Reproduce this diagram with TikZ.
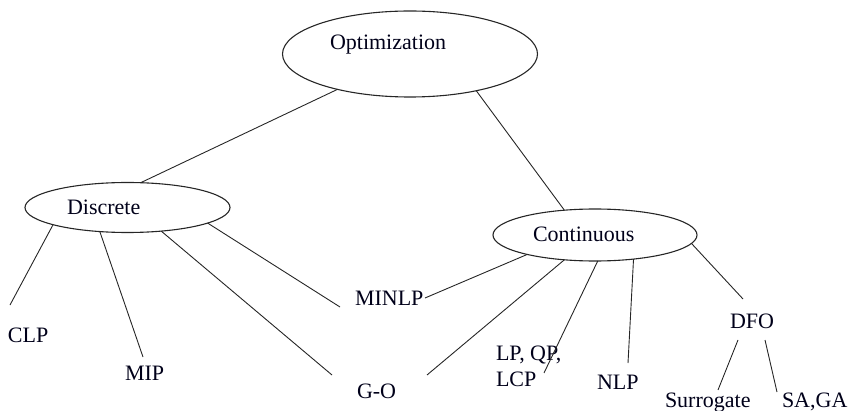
\documentclass[tikz,border=0pt]{standalone}
\usepackage{fontspec}
\setmainfont{Liberation Serif}
\usetikzlibrary{shapes.geometric}
\begin{document}
\begin{tikzpicture}[x=1pt,y=-1pt,
  ell/.style={draw=black!85, line width=1.1pt, ellipse, inner sep=0pt, outer sep=0pt},
  lbl/.style={anchor=base west, inner sep=0pt, outer sep=0pt, font=\fontsize{22}{26}\selectfont, text=black!90!blue},
  conn/.style={draw=black!85, line width=0.9pt}]
\useasboundingbox (0,0) rectangle (850,411);
% ellipses
\node[ell, minimum width=255pt, minimum height=86pt] (opt) at (410,54) {};
\node[ell, minimum width=205pt, minimum height=50pt] (disc) at (127.5,207.5) {};
\node[ell, minimum width=204pt, minimum height=52pt] (cont) at (595,235) {};
% labels
\node[lbl] (optT) at (330,50) {Optimization};
\node[lbl] (discT) at (67,215) {Discrete};
\node[lbl] (contT) at (533,242) {Continuous};
\node[lbl] (clp) at (8,342) {CLP};
\node[lbl] (mip) at (125,380) {MIP};
\node[lbl] (minlp) at (355,305) {MINLP};
\node[lbl] (go) at (357,398) {G-O};
\node[lbl] (lpqp) at (496,360) {LP, QP,};
\node[lbl] (lcp) at (496,386) {LCP};
\node[lbl] (nlp) at (597,389) {NLP};
\node[lbl] (dfo) at (730,328) {DFO};
\node[lbl] (sur) at (665,407) {Surrogate};
\node[lbl] (saga) at (782,407) {SA,GA};
% connector ends
\coordinate (clpE) at (10,305);
\coordinate (mipE) at (143,357);
\coordinate (goE1) at (332,375);
\coordinate (minlpE1) at (340,307);
\coordinate (minlpE2) at (425,298);
\coordinate (goE2) at (427,375);
\coordinate (lcpE) at (544,373);
\coordinate (nlpE) at (628,363);
\coordinate (dfoE) at (743,299);
\coordinate (dfoS) at (738,340);
\coordinate (surE) at (718,390);
\coordinate (dfoA) at (765,340);
\coordinate (sagE) at (777,392);
% connectors
\draw[conn] (opt.206.6) -- (disc.62);
\draw[conn] (opt.331) -- (cont.141.3);
\draw[conn] (disc.193.8) -- (clpE);
\draw[conn] (disc.221) -- (mipE);
\draw[conn] (disc.325) -- (goE1);
\draw[conn] (disc.349) -- (minlpE1);
\draw[conn] (cont.196.3) -- (minlpE2);
\draw[conn] (cont.219) -- (goE2);
\draw[conn] (cont.276) -- (lcpE);
\draw[conn] (cont.328.6) -- (nlpE);
\draw[conn] (cont.355.3) -- (dfoE);
\draw[conn] (dfoS) -- (surE);
\draw[conn] (dfoA) -- (sagE);
\end{tikzpicture}
\end{document}
